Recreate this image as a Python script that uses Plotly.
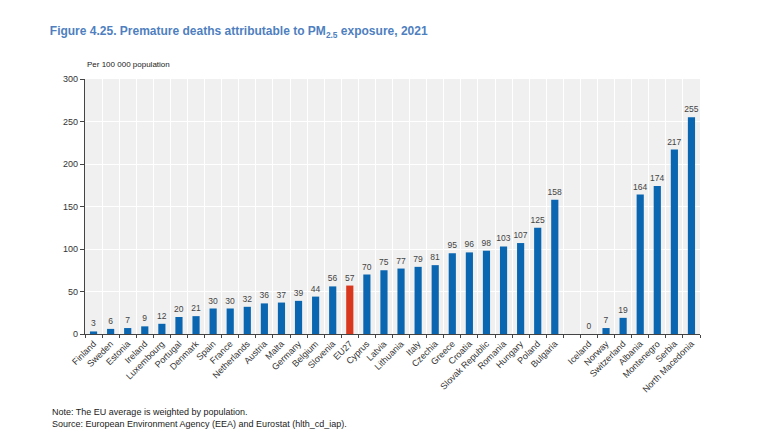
import plotly.graph_objects as go

# Countries in display order; a blank slot separates EU members from the others
countries = [
    "Finland", "Sweden", "Estonia", "Ireland", "Luxembourg", "Portugal", "Denmark",
    "Spain", "France", "Netherlands", "Austria", "Malta", "Germany", "Belgium",
    "Slovenia", "EU27", "Cyprus", "Latvia", "Lithuania", "Italy", "Czechia",
    "Greece", "Croatia", "Slovak Republic", "Romania", "Hungary", "Poland", "Bulgaria",
    " ",
    "Iceland", "Norway", "Switzerland", "Albania", "Montenegro", "Serbia", "North Macedonia",
]
deaths = [
    3, 6, 7, 9, 12, 20, 21,
    30, 30, 32, 36, 37, 39, 44,
    56, 57, 70, 75, 77, 79, 81,
    95, 96, 98, 103, 107, 125, 158,
    None,
    0, 7, 19, 164, 174, 217, 255,
]
highlight = "EU27"
y_ticks = [0, 50, 100, 150, 200, 250, 300]

BLUE = "#0a66b0"
RED = "#d9381e"
TEXT = "#333333"
FONT = "Liberation Sans Narrow, Arial Narrow, Liberation Sans, Arial"

bar_colors = [RED if c == highlight else BLUE for c in countries]
labels = ["" if v is None else str(v) for v in deaths]

fig = go.Figure()

fig.add_trace(go.Bar(
    x=countries,
    y=deaths,
    marker=dict(color=bar_colors, line=dict(width=0)),
    width=0.42,
    text=labels,
    textposition="outside",
    constraintext="none",
    cliponaxis=False,
    textfont=dict(size=8.5, color="#444444", family=FONT),
    hoverinfo="x+y",
))

fig.update_layout(
    width=760,
    height=430,
    paper_bgcolor="white",
    plot_bgcolor="#f0f0f0",
    font=dict(family=FONT, color=TEXT, size=9),
    showlegend=False,
    bargap=0.58,
    margin=dict(l=77, r=68, t=71, b=104),
    title=dict(
        text="Figure 4.25. Premature deaths attributable to PM<sub>2.5</sub> exposure, 2021",
        font=dict(size=12, color="#4f7fbf", family=FONT, weight="bold"),
        x=0.055, xanchor="left",
        y=0.947, yanchor="middle",
    ),
    annotations=[
        dict(text="Per 100 000 population", xref="paper", yref="paper",
             x=0, y=1.03, xanchor="left", yanchor="bottom", showarrow=False,
             font=dict(size=8, color="#222222", family=FONT)),
        dict(text="Note: The EU average is weighted by population.<br>"
                  "Source: European Environment Agency (EEA) and Eurostat (hlth_cd_iap).",
             xref="paper", yref="paper", x=-0.057, y=-0.28, xanchor="left", yanchor="top",
             align="left", showarrow=False,
             font=dict(size=9, color="#222222", family=FONT)),
    ],
)

fig.update_xaxes(
    type="category",
    tickangle=-45,
    tickson="boundaries",
    ticks="outside",
    ticklen=3,
    tickcolor="#444444",
    showgrid=True,
    gridcolor="white",
    gridwidth=1.2,
    showline=True,
    linecolor="#444444",
    linewidth=1.2,
    tickfont=dict(size=9, color=TEXT, family=FONT),
)

fig.update_yaxes(
    range=[0, 300],
    tickvals=y_ticks,
    ticks="outside",
    ticklen=4,
    tickcolor="#444444",
    showgrid=True,
    gridcolor="white",
    gridwidth=1.2,
    zeroline=False,
    showline=True,
    linecolor="#444444",
    linewidth=1.2,
    tickfont=dict(size=9, color=TEXT, family=FONT),
)

fig.write_html("out.html")
